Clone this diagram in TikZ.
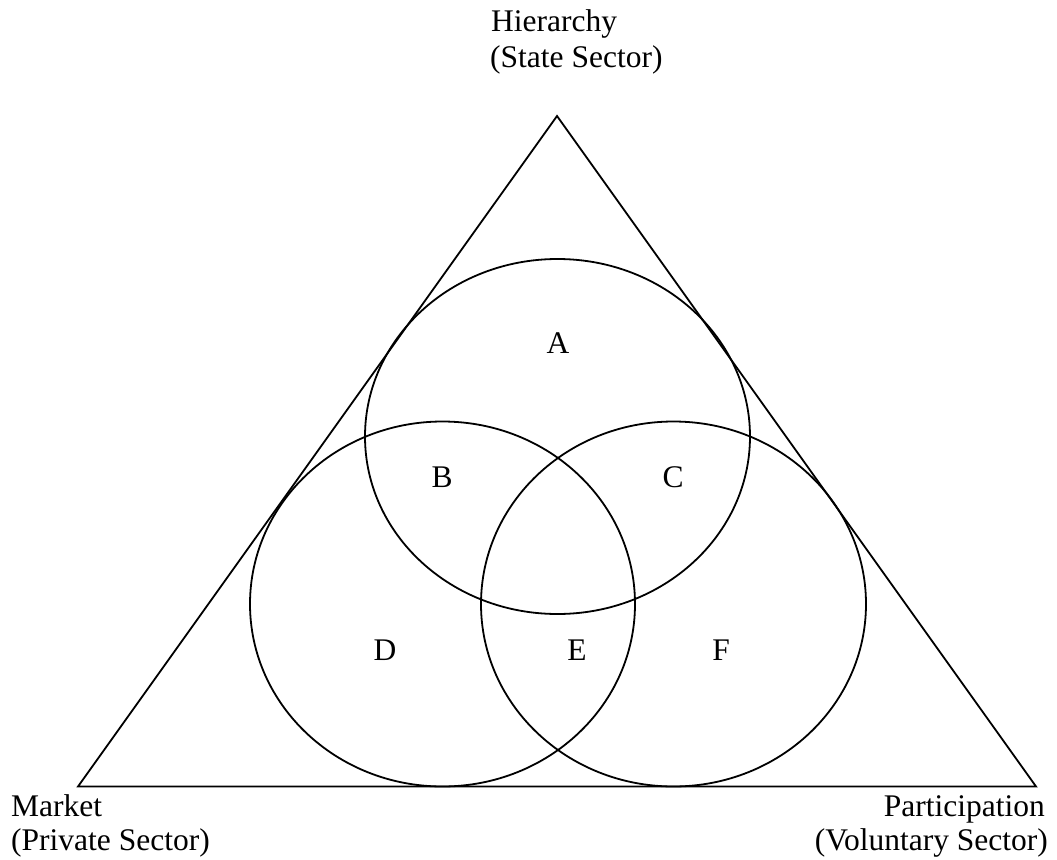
\documentclass[tikz,border=0pt]{standalone}
\usepackage{fontspec}
\setmainfont{Liberation Serif}
\begin{document}
\begin{tikzpicture}[x=1pt,y=-1pt,
  lbl/.style={inner sep=0pt,font=\fontsize{31.5}{35}\selectfont},
  shp/.style={draw=black,line width=1.8pt}]
\useasboundingbox (0,0) rectangle (1057,859);
% triangle
\coordinate (top) at (557,116);
\coordinate (bl) at (78,786.5);
\coordinate (br) at (1036,786.5);
\draw[shp,line join=miter] (top) -- (bl) -- (br) -- cycle;
% ellipses
\draw[shp] (557.5,436.5) ellipse [x radius=192.5, y radius=177.5];
\draw[shp] (442.5,604) ellipse [x radius=192.5, y radius=182.5];
\draw[shp] (673.5,604) ellipse [x radius=192.5, y radius=182.5];
% region letters
\node[lbl,anchor=base] (A) at (558,353) {A};
\node[lbl,anchor=base] (B) at (442,487) {B};
\node[lbl,anchor=base] (C) at (673,487) {C};
\node[lbl,anchor=base] (D) at (385,660) {D};
\node[lbl,anchor=base] (E) at (577,660) {E};
\node[lbl,anchor=base] (F) at (721,660) {F};
% corner labels
\node[lbl,anchor=base west] (h1) at (491,32) {Hierarchy};
\node[lbl,anchor=base west] (h2) at (490,67) {(State Sector)};
\node[lbl,anchor=base west] (m1) at (11,816) {Market};
\node[lbl,anchor=base west] (m2) at (11,850) {(Private Sector)};
\node[lbl,anchor=base east] (p1) at (1045,816) {Participation};
\node[lbl,anchor=base east] (p2) at (1048,850) {(Voluntary Sector)};
\end{tikzpicture}
\end{document}
